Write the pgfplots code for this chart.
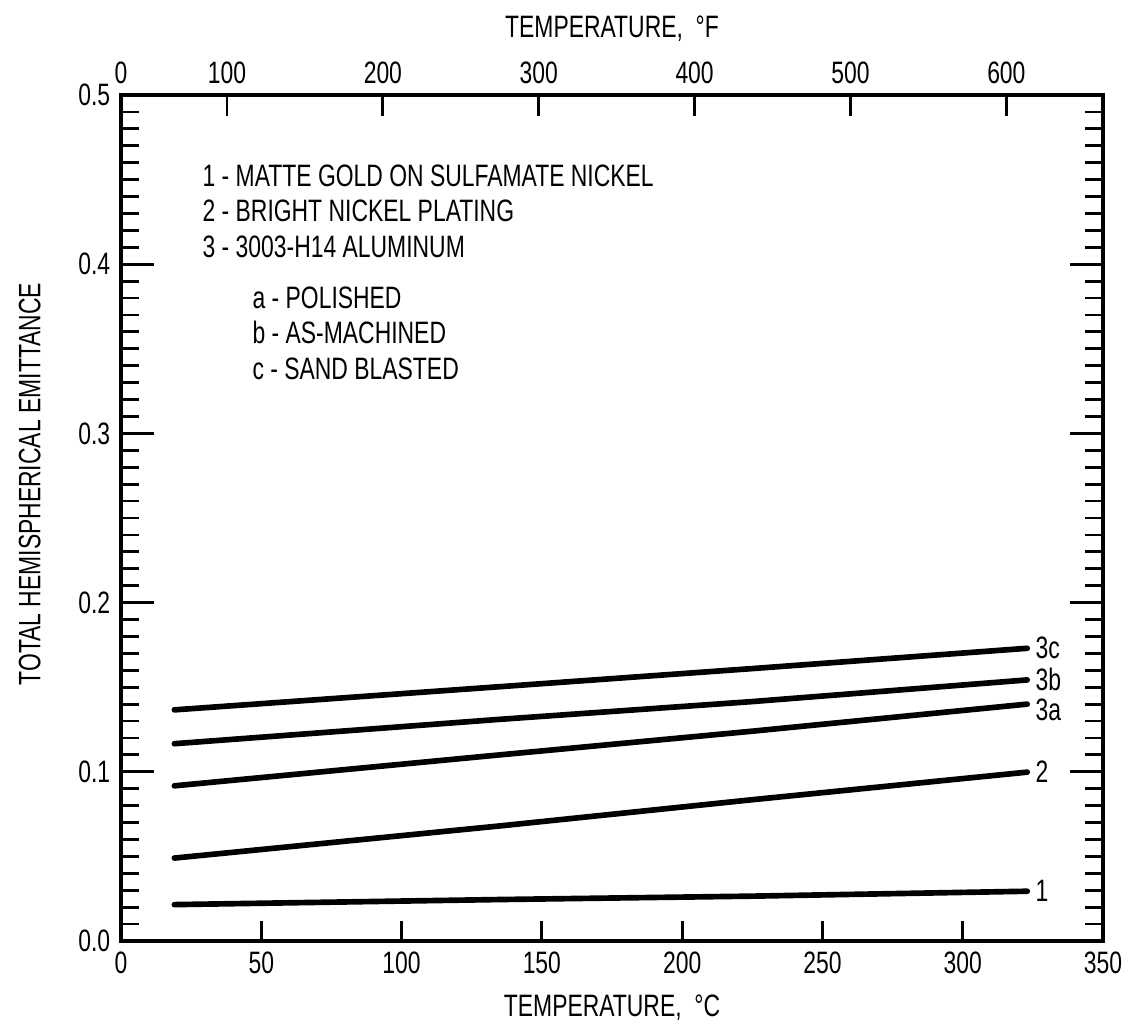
\documentclass[border=0pt,11pt]{standalone}
\usepackage{fontspec}
\setmainfont{Liberation Sans}[FakeStretch=0.74]
\usepackage{pgfplots}
\pgfplotsset{compat=1.18}
\begin{document}
\begin{tikzpicture}
\useasboundingbox (-42.8pt,-31.8pt) rectangle (357.2pt,332.8pt);
\begin{axis}[
  scale only axis, width=347.3pt, height=299.2pt,
  xmin=0, xmax=350, ymin=0, ymax=0.5,
  xtick={0,50,100,150,200,250,300,350}, xtick pos=bottom,
  ytick={0,0.1,0.2,0.3,0.4,0.5}, minor y tick num=9, ytick pos=both,
  tick align=inside,
  x tick style={/pgfplots/major tick length=7pt},
  y tick style={/pgfplots/major tick length=11.5pt, /pgfplots/minor tick length=6.5pt},
  every tick/.append style={line width=1pt, black},
  axis line style={line width=1.4pt},
  /pgf/number format/assume math mode=true,
  yticklabel style={/pgf/number format/.cd, fixed, fixed zerofill, precision=1},
  xlabel={TEMPERATURE,\ \ °C},
  ylabel={TOTAL HEMISPHERICAL EMITTANCE},
  ylabel style={at={(axis description cs:-0.093,0.54)}, anchor=center},
  clip=false,
]
\addplot[black, line width=2pt, line cap=round] coordinates {(19,0.0215) (135,0.0245) (225,0.0265) (323,0.0294)} node[pos=1,anchor=west,inner sep=2pt] {1};
\addplot[black, line width=2pt, line cap=round] coordinates {(19,0.049) (135,0.068) (225,0.0835) (323,0.0998)} node[pos=1,anchor=west,inner sep=2pt] {2};
\addplot[black, line width=2pt, line cap=round] coordinates {(19,0.0917) (135,0.110) (225,0.124) (323,0.140)} node[pos=1,anchor=west,inner sep=2pt,yshift=-2pt] {3a};
\addplot[black, line width=2pt, line cap=round] coordinates {(19,0.1166) (135,0.131) (225,0.1415) (323,0.1543)} node[pos=1,anchor=west,inner sep=2pt] {3b};
\addplot[black, line width=2pt, line cap=round] coordinates {(19,0.1366) (135,0.1503) (225,0.161) (323,0.173)} node[pos=1,anchor=west,inner sep=2pt] {3c};
\node[anchor=base west,inner sep=0pt] at (rel axis cs:0.0825,0.8917) {1 - MATTE GOLD ON SULFAMATE NICKEL};
\node[anchor=base west,inner sep=0pt] at (rel axis cs:0.0825,0.850) {2 - BRIGHT NICKEL PLATING};
\node[anchor=base west,inner sep=0pt] at (rel axis cs:0.0825,0.8075) {3 - 3003-H14 ALUMINUM};
\node[anchor=base west,inner sep=0pt] at (rel axis cs:0.1334,0.748) {a - POLISHED};
\node[anchor=base west,inner sep=0pt] at (rel axis cs:0.1334,0.706) {b - AS-MACHINED};
\node[anchor=base west,inner sep=0pt] at (rel axis cs:0.1334,0.6633) {c - SAND BLASTED};
\end{axis}
\begin{axis}[
  scale only axis, width=347.3pt, height=299.2pt,
  xmin=32, xmax=662, ymin=0, ymax=0.5,
  axis x line*=top, hide y axis,
  x axis line style={-, line width=1.4pt},
  xtick={32,100,200,300,400,500,600},
  xticklabels={0,100,200,300,400,500,600},
  tick align=inside,
  x tick style={/pgfplots/major tick length=7.5pt},
  every tick/.append style={line width=1pt, black},
  /pgf/number format/assume math mode=true,
  xlabel={TEMPERATURE,\ \ °F},
]
\end{axis}
\end{tikzpicture}
\end{document}
